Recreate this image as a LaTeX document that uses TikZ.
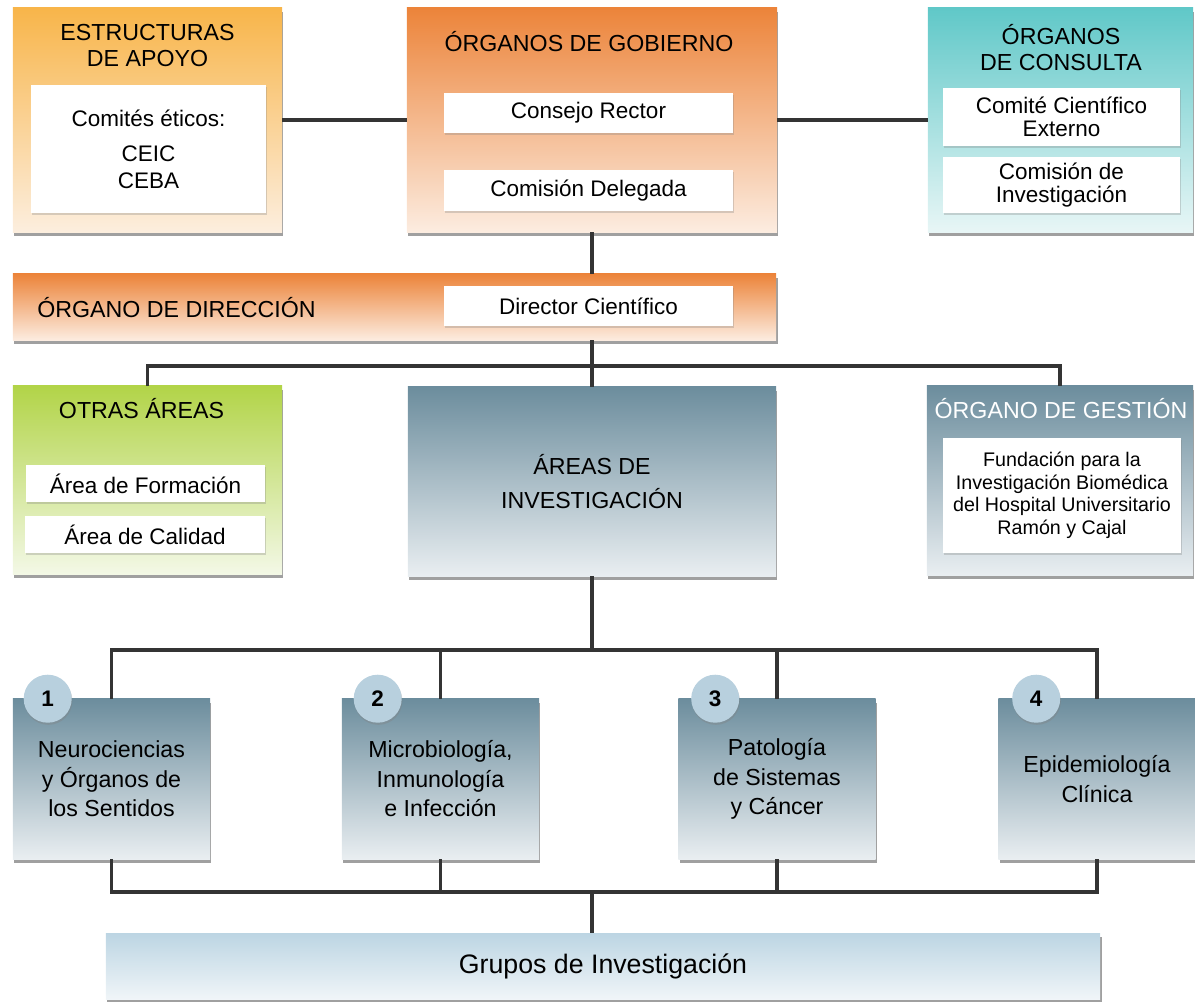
\documentclass[tikz,border=0pt]{standalone}
\usepackage{fontspec}
\setmainfont{Liberation Sans}
\usetikzlibrary{shadows}
\definecolor{apoyotop}{RGB}{248,181,74}
\definecolor{apoyobot}{RGB}{252,238,222}
\definecolor{gobtop}{RGB}{236,132,58}
\definecolor{gobbot}{RGB}{252,236,224}
\definecolor{contop}{RGB}{96,200,200}
\definecolor{conbot}{RGB}{232,246,246}
\definecolor{otrtop}{RGB}{178,212,72}
\definecolor{otrbot}{RGB}{243,248,230}
\definecolor{invtop}{RGB}{108,141,157}
\definecolor{invbot}{RGB}{233,238,241}
\definecolor{numfill}{RGB}{184,208,222}
\definecolor{grutop}{RGB}{188,213,227}
\definecolor{grubot}{RGB}{240,245,248}
\definecolor{linea}{RGB}{52,52,52}
\tikzstyle{panel} = [rectangle, 
inner sep=0pt,
drop shadow={shadow xshift=1pt, shadow yshift=-3pt, opacity=0.75}]
\tikzstyle{whitebox} = [rectangle, 
fill=white, 
align=center, 
inner sep=0pt,
font=\fontsize{16}{16}\selectfont,
drop shadow={shadow xshift=1pt, shadow yshift=-1.5pt, opacity=0.3}]
\tikzstyle{title} = [align=center, 
inner sep=0pt, 
font=\fontsize{16.5}{18}\selectfont]
\tikzstyle{areabox} = [panel, 
top color=invtop, bottom color=invbot,
minimum width=4.925cm, 
minimum height=4cm, 
align=center, 
font=\fontsize{16.5}{21}\selectfont]
\tikzstyle{num} = [circle, 
fill=numfill, 
minimum size=1.2cm, 
inner sep=0pt,
font=\bfseries\fontsize{16}{16}\selectfont,
drop shadow={shadow xshift=0.5pt, shadow yshift=-1.5pt, opacity=0.35}]
\tikzstyle{conn} = [line width=2.4pt, draw=linea]

\begin{document}
\begin{tikzpicture}[x=0.025cm, y=-0.025cm]
	\useasboundingbox (0,0) rectangle (1195,1001);
	% fila superior
	\node (apoyo) [panel, top color=apoyotop, bottom color=apoyobot, minimum width=6.725cm, minimum height=5.6cm] at (147.5,120) {};
	\node (gobierno) [panel, top color=gobtop, bottom color=gobbot, minimum width=9.25cm, minimum height=5.6cm] at (592,120) {};
	\node (consulta) [panel, top color=contop, bottom color=conbot, minimum width=6.625cm, minimum height=5.6cm] at (1060.5,120) {};
	\node (tapoyo) [title] at (147.5,45.5) {ESTRUCTURAS\\DE APOYO};
	\node (tgobierno) [title] at (589,42) {ÓRGANOS DE GOBIERNO};
	\node (tconsulta) [title] at (1061,47.5) {ÓRGANOS\\DE CONSULTA};
	\node (comites) [whitebox, minimum width=5.875cm, minimum height=3.2cm] at (148.5,149) {Comités éticos:\\[9pt]CEIC\\[3pt]CEBA};
	\node (consejo) [whitebox, minimum width=7.225cm, minimum height=1cm] at (588.5,113) {Consejo Rector};
	\node (comision) [whitebox, minimum width=7.225cm, minimum height=1.025cm] at (588.5,190.5) {Comisión Delegada};
	\node (comite) [whitebox, minimum width=5.925cm, minimum height=1.45cm] at (1061.5,117) {Comité Científico\\Externo};
	\node (cominv) [whitebox, minimum width=5.925cm, minimum height=1.4cm] at (1061.5,185) {Comisión de\\Investigación};
	% direccion
	\node (direccion) [panel, top color=gobtop, bottom color=gobbot, minimum width=19.075cm, minimum height=1.65cm] at (394.5,307) {};
	\node (tdireccion) [title, anchor=west] at (37,308) {ÓRGANO DE DIRECCIÓN};
	\node (director) [whitebox, minimum width=7.225cm, minimum height=1cm] at (588.5,306) {Director Científico};
	% fila central
	\node (otras) [panel, top color=otrtop, bottom color=otrbot, minimum width=6.725cm, minimum height=4.7cm] at (147.5,480) {};
	\node (areas) [panel, top color=invtop, bottom color=invbot, minimum width=9.2cm, minimum height=4.725cm, align=center, font=\fontsize{16.5}{24}\selectfont] at (592,481.5) {ÁREAS DE\\INVESTIGACIÓN};
	\node (gestion) [panel, top color=invtop, bottom color=invbot, minimum width=6.65cm, minimum height=4.725cm] at (1060,480.5) {};
	\node (totras) [title] at (141.5,409) {OTRAS ÁREAS};
	\node (tgestion) [title, text=white] at (1061,409) {ÓRGANO DE GESTIÓN};
	\node (formacion) [whitebox, minimum width=5.975cm, minimum height=0.925cm] at (145.5,483.5) {Área de Formación};
	\node (calidad) [whitebox, minimum width=6cm, minimum height=0.925cm] at (145,534.5) {Área de Calidad};
	\node (fundacion) [whitebox, minimum width=5.95cm, minimum height=2.875cm, font=\fontsize{14}{16}\selectfont] at (1062,495.5) {Fundación para la\\Investigación Biomédica\\del Hospital Universitario\\Ramón y Cajal};
	% areas de investigacion
	\node (area1) [areabox] at (111.5,779) {Neurociencias\\y Órganos de\\los Sentidos};
	\node (area2) [areabox] at (440.5,779) {Microbiología,\\Inmunología\\e Infección};
	\node (area3) [areabox] at (777,779) {Patología\\de Sistemas\\y Cáncer};
	\node (area4) [areabox] at (1097,779) {Epidemiología\\Clínica};
	\node (n1) [num, xshift=0.875cm] at (area1.north west) {1};
	\node (n2) [num, xshift=0.9cm] at (area2.north west) {2};
	\node (n3) [num, xshift=0.925cm] at (area3.north west) {3};
	\node (n4) [num, xshift=0.95cm] at (area4.north west) {4};
	\node (grupos) [panel, top color=grutop, bottom color=grubot, minimum width=24.85cm, minimum height=1.65cm, font=\fontsize{19}{19}\selectfont] at (603,966) {Grupos de Investigación};
	% conectores
	\coordinate (busT) at (592,366);
	\coordinate (busM) at (592,650);
	\coordinate (busB) at (592,892);
	\draw [conn] (apoyo) -- (gobierno);
	\draw [conn] (gobierno) -- (consulta);
	\draw [conn] (gobierno.south) -- (gobierno.south |- direccion.north);
	\draw [conn] (direccion.south -| areas.north) -- (areas.north);
	\draw [conn] (otras.north) |- (busT) -| (gestion.north);
	\draw [conn] (areas.south) -- (busM);
	\draw [conn] (area1.north) |- (busM) -| (area4.north);
	\draw [conn] (area2.north) -- (area2.north |- busM);
	\draw [conn] (area3.north) -- (area3.north |- busM);
	\draw [conn] (area1.south) |- (busB) -| (area4.south);
	\draw [conn] (area2.south) -- (area2.south |- busB);
	\draw [conn] (area3.south) -- (area3.south |- busB);
	\draw [conn] (busB) -- (grupos.north -| busB);
\end{tikzpicture}
\end{document}
